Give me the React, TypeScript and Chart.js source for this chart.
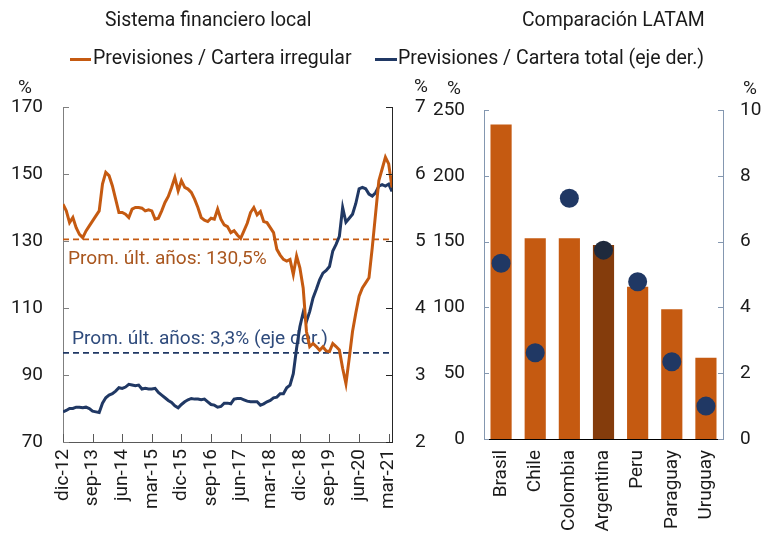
import React, { useEffect, useRef } from "react";
import { Chart, registerables } from "chart.js";

Chart.register(...registerables);

const FONT = "Roboto, 'Noto Sans', sans-serif";
const TEXT = "#1a1a1a";
const ORANGE = "#c55a11";
const ORANGE_DARK = "#843c0c";
const NAVY = "#203864";

// ---------- Left panel: Sistema financiero local (monthly, dic-12 .. abr-21) ----------
const monthTickLabels = [
  "dic-12", "sep-13", "jun-14", "mar-15", "dic-15", "sep-16",
  "jun-17", "mar-18", "dic-18", "sep-19", "jun-20", "mar-21",
];
const monthsPerTick = 9;

const provIrregular = [
  141, 139, 135.5, 137, 134, 132, 131, 133, 134.5, 136,
  137.5, 139, 147, 150.5, 149.5, 146.5, 142.5, 138.5, 138.5, 138,
  137, 139.5, 140, 140, 139.8, 139, 139.3, 139, 136.5, 136.8,
  139, 141.5, 143.3, 146, 149, 145, 148, 146, 145.5, 144.5,
  142.5, 140, 137, 136.2, 135.8, 136.8, 136.5, 139.5, 136.5, 134.8,
  134.3, 132.5, 133.1, 131.8, 130.8, 133, 135.3, 138.5, 140, 137.8,
  138.8, 135.8, 135.5, 134, 132.5, 127.5, 125.8, 124.5, 124, 124.5,
  120, 125.5, 122, 116, 103, 98.5, 99.4, 98.5, 97.4, 98.4,
  97.2, 97, 99.4, 98.5, 97.5, 92, 87.4, 95, 103, 108.5,
  113.5, 116, 117.5, 119, 128, 138, 148, 151.5, 155, 153,
  146,
];

const provTotal = [
  2.45, 2.47, 2.5, 2.5, 2.52, 2.52, 2.51, 2.52, 2.5, 2.46,
  2.45, 2.44, 2.58, 2.66, 2.7, 2.72, 2.76, 2.81, 2.8, 2.82,
  2.86, 2.85, 2.84, 2.85, 2.79, 2.8, 2.79, 2.79, 2.8, 2.74,
  2.7, 2.66, 2.62, 2.59, 2.54, 2.51, 2.56, 2.6, 2.63, 2.65,
  2.64, 2.64, 2.63, 2.64, 2.6, 2.56, 2.55, 2.52, 2.53, 2.58,
  2.58, 2.57, 2.64, 2.65, 2.65, 2.63, 2.61, 2.6, 2.6, 2.6,
  2.55, 2.57, 2.6, 2.62, 2.66, 2.67, 2.72, 2.72, 2.81, 2.85,
  3.02, 3.4, 3.72, 3.93, 3.8, 3.95, 4.15, 4.28, 4.42, 4.52,
  4.56, 4.62, 4.85, 4.95, 5.07, 5.5, 5.28, 5.34, 5.4, 5.56,
  5.78, 5.8, 5.78, 5.7, 5.67, 5.72, 5.82, 5.84, 5.82, 5.85,
  5.74,
];

const avgIrregular = 130.5;
const avgTotal = 3.33;

// ---------- Right panel: Comparación LATAM ----------
const countries = ["Brasil", "Chile", "Colombia", "Argentina", "Peru", "Paraguay", "Uruguay"];
const countryIrregular = [239, 152.5, 152.5, 147.5, 115.7, 98.5, 61.8];
const countryTotal = [5.34, 2.62, 7.32, 5.74, 4.78, 2.35, 1.0];

const H = 533;
const W1 = 430;
const L2 = 425;
const W2 = 763 - L2;

const insideTicks = {
  id: "insideTicks",
  afterDraw(chart: any, _args: any, opts: any) {
    const ctx = chart.ctx;
    const area = chart.chartArea;
    (opts.axes || []).forEach((a: any) => {
      const scale = chart.scales[a.id];
      if (!scale) return;
      ctx.save();
      ctx.strokeStyle = a.color;
      ctx.lineWidth = 1;
      scale.ticks.forEach((t: any) => {
        const p = Math.round(scale.getPixelForValue(t.value)) + 0.5;
        ctx.beginPath();
        if (a.side === "left") {
          ctx.moveTo(area.left, p);
          ctx.lineTo(area.left + a.len, p);
        } else if (a.side === "right") {
          ctx.moveTo(area.right, p);
          ctx.lineTo(area.right - a.len, p);
        } else {
          ctx.moveTo(p, area.bottom);
          ctx.lineTo(p, area.bottom - a.len);
        }
        ctx.stroke();
      });
      ctx.restore();
    });
  },
};

const avgLines = {
  id: "avgLines",
  beforeDatasetsDraw(chart: any, _args: any, opts: any) {
    const ctx = chart.ctx;
    const area = chart.chartArea;
    (opts.lines || []).forEach((l: any) => {
      const y = chart.scales[l.axis].getPixelForValue(l.value);
      ctx.save();
      ctx.strokeStyle = l.color;
      ctx.lineWidth = 1.8;
      ctx.setLineDash([6, 4]);
      ctx.beginPath();
      ctx.moveTo(area.left, y);
      ctx.lineTo(area.right, y);
      ctx.stroke();
      ctx.setLineDash([]);
      ctx.fillStyle = l.textColor;
      ctx.font = `19.1px ${FONT}`;
      ctx.textBaseline = "alphabetic";
      ctx.textAlign = "left";
      ctx.fillText(l.text, area.left + l.dx, y + l.dy);
      ctx.restore();
    });
  },
};

const tickFont = { family: FONT, size: 19 };

export default function App() {
  const leftRef = useRef<HTMLCanvasElement>(null);
  const rightRef = useRef<HTMLCanvasElement>(null);

  useEffect(() => {
    const left = new Chart(leftRef.current as HTMLCanvasElement, {
      type: "line",
      data: {
        datasets: [
          {
            label: "Previsiones / Cartera irregular",
            data: provIrregular.map((v, i) => ({ x: i, y: v })),
            borderColor: ORANGE,
            borderWidth: 3,
            pointRadius: 0,
            yAxisID: "y",
            order: 0,
          },
          {
            label: "Previsiones / Cartera total (eje der.)",
            data: provTotal.map((v, i) => ({ x: i, y: v })),
            borderColor: NAVY,
            borderWidth: 3,
            pointRadius: 0,
            yAxisID: "y1",
            order: 1,
          },
        ],
      },
      options: {
        responsive: false,
        animation: false,
        layout: { padding: { top: 107, left: 0, right: 0, bottom: 0 } },
        plugins: {
          legend: { display: false },
          title: { display: false },
          tooltip: { enabled: false },
          insideTicks: {
            axes: [
              { id: "y", side: "left", len: 6, color: "#7f7f7f" },
              { id: "y1", side: "right", len: 6, color: "#262626" },
              { id: "x", side: "bottom", len: 8, color: "#595959" },
            ],
          },
          avgLines: {
            lines: [
              {
                axis: "y", value: avgIrregular, color: ORANGE, textColor: "#a9561e",
                text: "Prom. últ. años: 130,5%", dx: 5, dy: 25,
              },
              {
                axis: "y1", value: avgTotal, color: NAVY, textColor: "#2f4b7c",
                text: "Prom. últ. años: 3,3% (eje der.)", dx: 9, dy: -9,
              },
            ],
          },
        } as any,
        scales: {
          x: {
            type: "linear",
            min: 0,
            max: 100,
            grid: { display: false, drawTicks: false },
            border: { display: true, color: "#595959", width: 1 },
            afterBuildTicks: (s: any) => {
              s.ticks = monthTickLabels.map((_, i) => ({ value: i * monthsPerTick }));
            },
            ticks: {
              autoSkip: false,
              minRotation: 90,
              maxRotation: 90,
              padding: 7,
              color: TEXT,
              font: tickFont,
              callback: (v: any) => monthTickLabels[Math.round(Number(v) / monthsPerTick)] ?? "",
            },
            afterFit: (s: any) => { s.height = H - 442; },
          },
          y: {
            position: "left",
            min: 70,
            max: 170,
            grid: { display: false, drawTicks: false },
            border: { display: true, color: "#7f7f7f", width: 1 },
            ticks: { stepSize: 20, padding: 20, color: TEXT, font: tickFont },
            afterFit: (s: any) => { s.width = 63; },
          },
          y1: {
            position: "right",
            min: 2,
            max: 7,
            grid: { display: false, drawTicks: false },
            border: { display: true, color: "#262626", width: 1 },
            ticks: { stepSize: 1, padding: 23, color: TEXT, font: tickFont },
            afterFit: (s: any) => { s.width = W1 - 392; },
          },
        },
      },
      plugins: [insideTicks, avgLines],
    } as any);

    const right = new Chart(rightRef.current as HTMLCanvasElement, {
      type: "bar",
      data: {
        labels: countries,
        datasets: [
          {
            type: "line",
            label: "Previsiones / Cartera total (eje der.)",
            data: countryTotal,
            yAxisID: "y1",
            showLine: false,
            pointRadius: 9.5,
            pointHoverRadius: 9.5,
            pointBackgroundColor: countries.map((c) => (c === "Argentina" ? "#1f2a3d" : NAVY)),
            pointBorderWidth: 0,
            order: 0,
          },
          {
            type: "bar",
            label: "Previsiones / Cartera irregular",
            data: countryIrregular,
            yAxisID: "y",
            backgroundColor: countries.map((c) => (c === "Argentina" ? ORANGE_DARK : ORANGE)),
            barPercentage: 0.62,
            categoryPercentage: 1,
            order: 1,
          },
        ],
      },
      options: {
        responsive: false,
        animation: false,
        layout: { padding: { top: 110, left: 0, right: 0, bottom: 0 } },
        plugins: {
          legend: { display: false },
          title: { display: false },
          tooltip: { enabled: false },
          insideTicks: {
            axes: [
              { id: "y", side: "left", len: 5, color: "#8497b0" },
              { id: "y1", side: "right", len: 5, color: "#8497b0" },
            ],
          },
        } as any,
        scales: {
          x: {
            grid: { display: false, drawTicks: false },
            border: { display: true, color: "#000000", width: 1 },
            ticks: {
              autoSkip: false,
              minRotation: 90,
              maxRotation: 90,
              padding: 11,
              color: TEXT,
              font: tickFont,
            },
            afterFit: (s: any) => { s.height = H - 439; },
          },
          y: {
            position: "left",
            min: 0,
            max: 250,
            grid: { display: false, drawTicks: false },
            border: { display: true, color: "#8497b0", width: 1 },
            ticks: { stepSize: 50, padding: 19, color: TEXT, font: tickFont },
            afterFit: (s: any) => { s.width = 484 - L2; },
          },
          y1: {
            position: "right",
            min: 0,
            max: 10,
            grid: { display: false, drawTicks: false },
            border: { display: true, color: "#8497b0", width: 1 },
            ticks: { stepSize: 2, padding: 17, color: TEXT, font: tickFont },
            afterFit: (s: any) => { s.width = W2 - (723 - L2); },
          },
        },
      },
      plugins: [insideTicks],
    } as any);

    return () => {
      left.destroy();
      right.destroy();
    };
  }, []);

  const txt: React.CSSProperties = {
    position: "absolute",
    fontFamily: FONT,
    color: TEXT,
    lineHeight: 1,
    whiteSpace: "nowrap",
    margin: 0,
  };

  return (
    <div style={{ position: "absolute", left: 0, top: 0, width: 763, height: H, background: "#fff", overflow: "hidden" }}>
      <canvas ref={leftRef} width={W1} height={H} style={{ position: "absolute", left: 0, top: 0, width: W1, height: H }} />
      <canvas ref={rightRef} width={W2} height={H} style={{ position: "absolute", left: L2, top: 0, width: W2, height: H }} />

      <div style={{ ...txt, left: 105, top: 10, fontSize: 19.4 }}>Sistema financiero local</div>
      <div style={{ ...txt, left: 522, top: 10, fontSize: 19.4 }}>Comparación LATAM</div>

      <div style={{ position: "absolute", left: 70, top: 58, width: 21, height: 3, background: ORANGE }} />
      <div style={{ ...txt, left: 93, top: 48, fontSize: 19.5 }}>Previsiones / Cartera irregular</div>
      <div style={{ position: "absolute", left: 375, top: 58, width: 22, height: 3, background: NAVY }} />
      <div style={{ ...txt, left: 398, top: 48, fontSize: 19.5 }}>Previsiones / Cartera total (eje der.)</div>

      <div style={{ ...txt, left: 18, top: 77, fontSize: 19 }}>%</div>
      <div style={{ ...txt, left: 414, top: 76, fontSize: 19 }}>%</div>
      <div style={{ ...txt, left: 447, top: 78, fontSize: 19 }}>%</div>
      <div style={{ ...txt, left: 743, top: 78, fontSize: 19 }}>%</div>
    </div>
  );
}
